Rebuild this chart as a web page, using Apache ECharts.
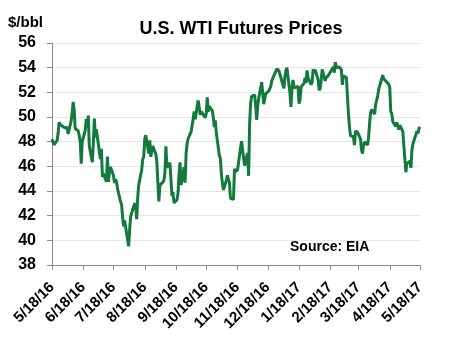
<!DOCTYPE html>
<html><head><meta charset="utf-8">
<script src="https://cdn.jsdelivr.net/npm/echarts@6/dist/echarts.min.js"></script>
<style>html,body{margin:0;padding:0;background:#fff}#c{width:449px;height:345px}</style>
</head><body><div id="c"></div>
<script>
const dates = [
'5/18/16','5/19/16','5/20/16','5/23/16','5/24/16','5/25/16','5/26/16','5/27/16','5/31/16',
'6/1/16','6/2/16','6/3/16','6/6/16','6/7/16','6/8/16','6/9/16','6/10/16','6/13/16','6/14/16','6/15/16','6/16/16','6/17/16','6/20/16','6/21/16','6/22/16','6/23/16','6/24/16','6/27/16','6/28/16','6/29/16','6/30/16',
'7/1/16','7/5/16','7/6/16','7/7/16','7/8/16','7/11/16','7/12/16','7/13/16','7/14/16','7/15/16','7/18/16','7/19/16','7/20/16','7/21/16','7/22/16','7/25/16','7/26/16','7/27/16','7/28/16','7/29/16',
'8/1/16','8/2/16','8/3/16','8/4/16','8/5/16','8/8/16','8/9/16','8/10/16','8/11/16','8/12/16','8/15/16','8/16/16','8/17/16','8/18/16','8/19/16','8/22/16','8/23/16','8/24/16','8/25/16','8/26/16','8/29/16','8/30/16','8/31/16',
'9/1/16','9/2/16','9/6/16','9/7/16','9/8/16','9/9/16','9/12/16','9/13/16','9/14/16','9/15/16','9/16/16','9/19/16','9/20/16','9/21/16','9/22/16','9/23/16','9/26/16','9/27/16','9/28/16','9/29/16','9/30/16',
'10/3/16','10/4/16','10/5/16','10/6/16','10/7/16','10/10/16','10/11/16','10/12/16','10/13/16','10/14/16','10/17/16','10/18/16','10/19/16','10/20/16','10/21/16','10/24/16','10/25/16','10/26/16','10/27/16','10/28/16','10/31/16',
'11/1/16','11/2/16','11/3/16','11/4/16','11/7/16','11/8/16','11/9/16','11/10/16','11/11/16','11/14/16','11/15/16','11/16/16','11/17/16','11/18/16','11/21/16','11/22/16','11/23/16','11/25/16','11/28/16','11/29/16','11/30/16',
'12/1/16','12/2/16','12/5/16','12/6/16','12/7/16','12/8/16','12/9/16','12/12/16','12/13/16','12/14/16','12/15/16','12/16/16','12/19/16','12/20/16','12/21/16','12/22/16','12/23/16','12/27/16','12/28/16','12/29/16','12/30/16',
'1/3/17','1/4/17','1/5/17','1/6/17','1/9/17','1/10/17','1/11/17','1/12/17','1/13/17','1/17/17','1/18/17','1/19/17','1/20/17','1/23/17','1/24/17','1/25/17','1/26/17','1/27/17','1/30/17','1/31/17',
'2/1/17','2/2/17','2/3/17','2/6/17','2/7/17','2/8/17','2/9/17','2/10/17','2/13/17','2/14/17','2/15/17','2/16/17','2/17/17','2/21/17','2/22/17','2/23/17','2/24/17','2/27/17','2/28/17',
'3/1/17','3/2/17','3/3/17','3/6/17','3/7/17','3/8/17','3/9/17','3/10/17','3/13/17','3/14/17','3/15/17','3/16/17','3/17/17','3/20/17','3/21/17','3/22/17','3/23/17','3/24/17','3/27/17','3/28/17','3/29/17','3/30/17','3/31/17',
'4/3/17','4/4/17','4/5/17','4/6/17','4/7/17','4/10/17','4/11/17','4/12/17','4/13/17','4/17/17','4/18/17','4/19/17','4/20/17','4/21/17','4/24/17','4/25/17','4/26/17','4/27/17','4/28/17',
'5/1/17','5/2/17','5/3/17','5/4/17','5/5/17','5/8/17','5/9/17','5/10/17','5/11/17','5/12/17','5/15/17','5/16/17','5/17/17','5/18/17'
];
const prices = [
48.19,48.16,47.75,48.08,48.62,49.56,49.48,49.33,49.10,
49.01,49.17,48.62,49.69,50.36,51.23,50.56,49.07,48.88,48.49,48.01,46.21,47.98,48.96,49.85,49.13,50.11,47.64,46.33,47.85,49.88,48.33,
48.99,46.60,47.43,45.14,45.41,44.76,46.80,44.75,45.68,45.95,45.24,44.65,44.94,44.75,44.19,43.13,42.92,41.92,41.14,41.60,
40.06,39.51,40.83,41.93,41.80,43.02,42.77,41.71,43.49,44.49,45.74,46.58,46.79,48.22,48.52,47.05,48.10,46.77,47.33,47.64,46.98,46.35,44.70,
43.16,44.44,44.83,45.50,47.62,45.88,46.29,44.90,43.58,43.91,43.03,43.30,43.85,45.34,46.32,44.48,45.93,44.67,47.05,47.83,48.24,
48.81,48.69,49.83,50.44,49.81,51.35,50.79,50.18,50.44,50.35,49.94,50.29,51.60,50.43,50.85,50.52,49.96,49.18,49.72,48.70,46.86,
46.67,45.34,44.66,44.07,44.89,45.27,45.27,44.66,43.41,43.32,45.81,45.57,45.42,45.69,47.49,48.03,47.96,46.06,47.08,45.23,49.44,
51.06,51.68,51.79,50.93,49.77,50.84,51.50,52.83,52.98,51.04,50.90,51.90,52.12,52.23,52.49,52.95,53.02,53.90,54.06,53.77,53.72,
52.33,53.26,53.76,53.99,51.96,50.82,52.25,53.01,52.37,52.48,51.08,51.37,52.42,52.75,53.18,52.75,53.78,53.17,52.63,52.81,
53.88,53.54,53.83,53.01,52.17,52.34,53.00,53.86,52.93,53.20,53.11,53.36,53.40,54.06,53.59,54.45,53.99,54.05,54.01,
53.83,52.61,53.33,53.20,53.14,50.28,49.28,48.49,48.40,47.72,48.86,48.75,48.78,48.22,47.34,47.04,47.70,47.97,47.73,48.37,49.51,50.35,50.60,
50.24,51.03,51.15,51.70,52.24,53.08,53.40,53.11,53.18,52.65,52.41,50.44,50.27,49.62,49.23,49.56,49.62,48.97,49.33,
48.84,47.66,47.82,45.52,46.22,46.43,45.88,47.33,47.83,47.84,48.85,48.66,49.07,49.20
];
const tickLabels = ['5/18/16','6/18/16','7/18/16','8/18/16','9/18/16','10/18/16','11/18/16','12/18/16','1/18/17','2/18/17','3/18/17','4/18/17','5/18/17'];
const yMin = 38, yMax = 56, yStep = 2;

function parseD(s){const p=s.split('/').map(Number);return Date.UTC(2000+p[2],p[0]-1,p[1])/86400000;}
const tickDays = tickLabels.map(parseD);
const labelMap = {}; tickLabels.forEach((l,i)=>labelMap[tickDays[i]]=l);
const seriesData = dates.map((d,i)=>[parseD(d),prices[i]]);

const FONT = '"Liberation Sans", Arial, sans-serif';
const chart = echarts.init(document.getElementById('c'), null, {renderer:'canvas'});
chart.setOption({
  animation:false,
  backgroundColor:'#fff',
  title:{text:'U.S. WTI Futures Prices',left:236,textAlign:'center',top:15,
    textStyle:{fontFamily:FONT,fontWeight:'bold',fontSize:18,color:'#000'}},
  graphic:[
    {type:'text',left:8,top:15,style:{text:'$/bbl',fontFamily:FONT,fontWeight:'bold',fontSize:15,fill:'#000'}},
    {type:'text',left:290,top:240,style:{text:'Source: EIA',fontFamily:FONT,fontWeight:'bold',fontSize:14,fill:'#000'}}
  ],
  grid:{left:52,right:29,top:43,bottom:80},
  xAxis:{type:'value',min:tickDays[0],max:tickDays[tickDays.length-1],
    axisLine:{lineStyle:{color:'#8c8c8c',width:1}},
    axisTick:{show:true,length:5,customValues:tickDays,lineStyle:{color:'#8c8c8c'}},
    axisLabel:{customValues:tickDays,rotate:45,margin:20,hideOverlap:false,fontFamily:FONT,fontWeight:'bold',fontSize:15,color:'#000',
      showMinLabel:true,showMaxLabel:true,formatter:v=>labelMap[v]||''},
    splitLine:{show:false}},
  yAxis:{type:'value',min:yMin,max:yMax,interval:yStep,
    axisLine:{show:true,lineStyle:{color:'#8c8c8c',width:1}},
    axisTick:{show:true,length:5,lineStyle:{color:'#8c8c8c'}},
    axisLabel:{margin:16,fontFamily:FONT,fontWeight:'bold',fontSize:16,color:'#000'},
    splitLine:{show:true,lineStyle:{color:'#e6e6e6',width:1}}},
  series:[{type:'line',data:seriesData,showSymbol:false,symbol:'none',
    lineStyle:{color:'#117a3c',width:3},itemStyle:{color:'#117a3c'}}]
});
</script></body></html>
